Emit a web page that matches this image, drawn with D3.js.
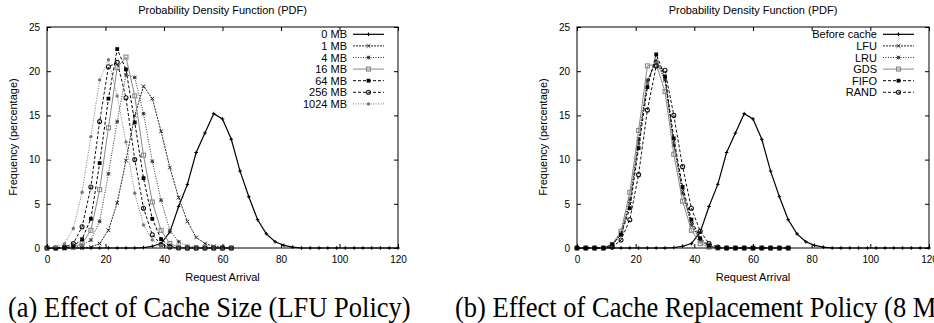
<!DOCTYPE html>
<html><head><meta charset="utf-8">
<script src="https://cdn.jsdelivr.net/npm/d3@7"></script>
<style>
body{margin:0;background:#fff;}
svg{display:block;font-family:"Liberation Sans",Arial,Helvetica,sans-serif;}
</style></head><body>
<svg id="c" width="934" height="323"></svg>
<script>
// ---------- data ----------
const arrivalBins = [0,3,6,9,12,15,18,21,24,27,30,33,36,39,42,45,48,51,54,57,60,63,66,69,72,75,78,81,84,87,90,93,96,99,102,105,108,111,114,117,120];
const xTicks = [0,20,40,60,80,100,120];
const yTicks = [0,5,10,15,20,25];
const chartTitle = "Probability Density Function (PDF)";
const xLabel = "Request Arrival";
const yLabel = "Frequency (percentage)";
const captionA = "(a) Effect of Cache Size (LFU Policy)";
const captionB = "(b) Effect of Cache Replacement Policy (8 MB)";

// before cache (= 0 MB)
const beforeCache = [0,0,0,0,0,0,0,0,0,0,0,0.05,0.2,0.5,1.8,4.7,7.2,10.8,13.0,15.2,14.6,12.3,8.7,5.8,3.2,1.6,0.7,0.3,0.1,0,0,0,0,0,0,0,0,0,0,0,0];

// panel (a): cache sizes, LFU policy
const sizeLabels = ["0 MB","1 MB","4 MB","16 MB","64 MB","256 MB","1024 MB"];
const size1MB    = [0,0,0,0,0,0.1,0.5,2.0,5.1,9.9,15.0,18.3,16.9,13.2,9.1,5.7,3.0,1.2,0.5,0.2,0.1,0];
const size4MB    = [0,0,0,0.1,0.3,0.9,3.0,8.4,14.3,19.6,19.3,15.2,9.8,5.4,2.0,0.7,0.2,0.1,0,0,0,0];
const size16MB   = [0,0,0,0.1,0.5,2.0,6.6,13.6,20.4,21.6,17.2,10.5,5.2,2.0,0.5,0.1,0,0,0,0,0,0];
const size64MB   = [0,0,0,0.2,1.0,3.3,9.6,16.9,22.5,20.2,14.2,7.9,3.3,1.0,0.2,0,0,0,0,0,0,0];
const size256MB  = [0,0,0.1,0.5,2.4,6.9,14.3,20.5,21.0,17.0,10.0,4.5,1.5,0.4,0.1,0,0,0,0,0,0,0];
const size1024MB = [0,0.1,0.5,2.2,6.3,12.6,19.0,21.3,17.2,12.0,6.2,2.6,0.9,0.3,0.1,0,0,0,0,0,0,0];

// panel (b): replacement policies, 8 MB cache
const policyLabels = ["Before cache","LFU","LRU","GDS","FIFO","RAND"];
const policyLFU  = [0,0,0,0,0.3,1.6,5.0,12.0,18.8,21.3,19.2,11.8,6.4,2.8,0.9,0.2,0,0,0,0,0,0,0,0,0];
const policyLRU  = [0,0,0,0,0.3,1.7,5.5,12.3,19.0,21.0,19.0,11.6,6.2,2.6,0.8,0.2,0,0,0,0,0,0,0,0,0];
const policyGDS  = [0,0,0,0,0.4,1.9,6.3,13.3,20.6,20.8,17.7,10.6,5.3,2.0,0.5,0.1,0,0,0,0,0,0,0,0,0];
const policyFIFO = [0,0,0,0,0.4,1.5,4.5,11.3,18.2,21.9,19.4,12.4,6.9,3.2,1.1,0.3,0,0,0,0,0,0,0,0,0];
const policyRAND = [0,0,0,0,0.1,0.9,3.2,8.3,15.6,20.6,20.1,15.0,9.2,4.5,1.9,0.5,0.1,0,0,0,0,0,0,0,0];

// ---------- styles (gnuplot-like) ----------
const styles = [
  {stroke:"#000", width:1.2, dash:null,  marker:"plus"},
  {stroke:"#222", width:1,   dash:"2,1", marker:"cross"},
  {stroke:"#333", width:1,   dash:"1,1.5", marker:"star"},
  {stroke:"#888", width:1,   dash:null,  marker:"square"},
  {stroke:"#000", width:1,   dash:"3,2", marker:"fsquare"},
  {stroke:"#111", width:1,   dash:"3,2", marker:"circle"},
  {stroke:"#777", width:1,   dash:"1,1.5", marker:"fcircle"}
];

const svg = d3.select("#c");

function drawMarker(g, type, cx, cy, color){
  const s = 1.8;
  if(type==="plus"){
    g.append("path").attr("d",`M${cx-s},${cy}h${2*s}M${cx},${cy-s}v${2*s}`).attr("stroke",color).attr("stroke-width",1).attr("fill","none");
  } else if(type==="cross"){
    g.append("path").attr("d",`M${cx-s},${cy-s}L${cx+s},${cy+s}M${cx-s},${cy+s}L${cx+s},${cy-s}`).attr("stroke",color).attr("stroke-width",1).attr("fill","none");
  } else if(type==="star"){
    g.append("path").attr("d",`M${cx-s},${cy}h${2*s}M${cx},${cy-s}v${2*s}M${cx-s},${cy-s}L${cx+s},${cy+s}M${cx-s},${cy+s}L${cx+s},${cy-s}`).attr("stroke",color).attr("stroke-width",0.9).attr("fill","none");
  } else if(type==="square"){
    g.append("rect").attr("x",cx-2).attr("y",cy-2).attr("width",4).attr("height",4).attr("stroke",color).attr("stroke-width",1.1).attr("fill","none");
  } else if(type==="fsquare"){
    g.append("rect").attr("x",cx-1.9).attr("y",cy-1.9).attr("width",3.8).attr("height",3.8).attr("fill",color);
  } else if(type==="circle"){
    g.append("circle").attr("cx",cx).attr("cy",cy).attr("r",2).attr("stroke",color).attr("stroke-width",1.1).attr("fill","none");
  } else if(type==="fcircle"){
    g.append("circle").attr("cx",cx).attr("cy",cy).attr("r",1.7).attr("fill",color);
  }
}

function panel(opts){
  const x = d3.scaleLinear().domain([0,120]).range([opts.left, opts.right]);
  const y = d3.scaleLinear().domain([0,25]).range([248, 27]);
  const g = svg.append("g");

  // data
  opts.series.forEach((vals, i) => {
    const st = styles[i];
    const pts = vals.map((v,k)=>[arrivalBins[k], v]);
    const line = d3.line().x(d=>x(d[0])).y(d=>y(d[1]));
    g.append("path").datum(pts).attr("d", line).attr("fill","none")
      .attr("stroke", st.stroke).attr("stroke-width", st.width)
      .attr("stroke-dasharray", st.dash);
    const mg = g.append("g");
    pts.forEach(p => drawMarker(mg, st.marker, x(p[0]), y(p[1]), st.stroke));
  });

  // axes (ticks inward, mirrored)
  const ax = g.append("g").attr("font-size",11);
  ax.append("g").attr("transform","translate(0,248)")
    .call(d3.axisBottom(x).tickValues(xTicks).tickSize(-4).tickPadding(8).tickFormat(d3.format("d")));
  ax.append("g").attr("transform","translate(0,27)")
    .call(d3.axisTop(x).tickValues(xTicks).tickSize(-4).tickFormat(""));
  ax.append("g").attr("transform",`translate(${opts.left},0)`)
    .call(d3.axisLeft(y).tickValues(yTicks).tickSize(-4).tickPadding(7).tickFormat(d3.format("d")));
  ax.append("g").attr("transform",`translate(${opts.right},0)`)
    .call(d3.axisRight(y).tickValues(yTicks).tickSize(-4).tickFormat(""));
  ax.selectAll(".domain").remove();
  ax.selectAll("text").attr("fill","#000").attr("font-family",'"Liberation Sans",Arial,sans-serif');
  ax.selectAll("line").attr("stroke","#000");
  g.append("rect").attr("x",opts.left).attr("y",27).attr("width",opts.right-opts.left).attr("height",221)
    .attr("fill","none").attr("stroke","#000").attr("stroke-width",1);

  const cx = (opts.left + opts.right)/2;
  g.append("text").attr("x",cx).attr("y",13.5).attr("text-anchor","middle").attr("font-size",11).text(chartTitle);
  g.append("text").attr("x",cx).attr("y",281).attr("text-anchor","middle").attr("font-size",11).text(xLabel);
  g.append("text").attr("transform",`translate(${opts.ylabX},137) rotate(-90)`).attr("text-anchor","middle").attr("font-size",11).text(yLabel);

  // legend
  const lg = g.append("g");
  opts.labels.forEach((lab,i)=>{
    const st = styles[i];
    const yy = 34.3 + i*11.6;
    lg.append("text").attr("x",opts.legText).attr("y",yy+4).attr("text-anchor","end").attr("font-size",11).text(lab);
    lg.append("line").attr("x1",opts.legText+6).attr("x2",opts.legText+37).attr("y1",yy).attr("y2",yy)
      .attr("stroke",st.stroke).attr("stroke-width",st.width).attr("stroke-dasharray",st.dash);
    drawMarker(lg, st.marker, opts.legText+21.5, yy, st.stroke);
  });
}

panel({left:47, right:398, ylabX:17, legText:347,
  series:[beforeCache,size1MB,size4MB,size16MB,size64MB,size256MB,size1024MB], labels:sizeLabels});
panel({left:577, right:929, ylabX:547, legText:877,
  series:[beforeCache,policyLFU,policyLRU,policyGDS,policyFIFO,policyRAND], labels:policyLabels});

// captions
function caption(txt, x){
  svg.append("text").attr("transform",`translate(${x},317) scale(1,1.15)`)
    .attr("font-family",'"Liberation Serif","Times New Roman",serif').attr("font-size",26.5)
    .attr("fill","#000").text(txt);
}
caption(captionA, 8);
caption(captionB, 455);
</script>
</body></html>
